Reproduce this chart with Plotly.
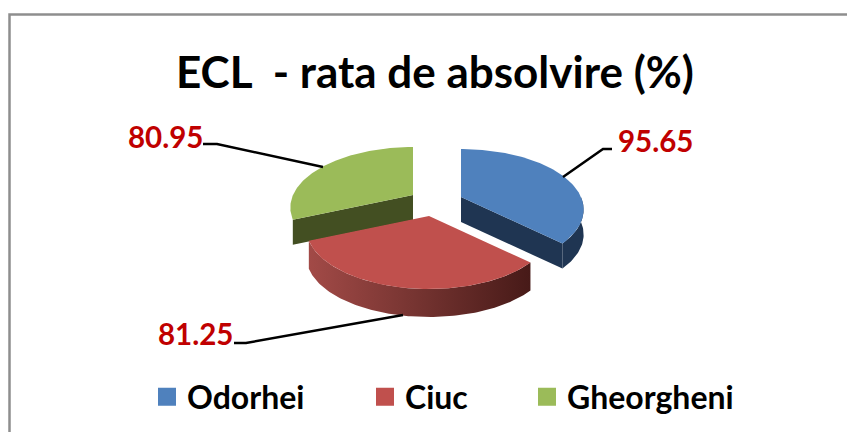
import numpy as np
import plotly.graph_objects as go

# --- data ---
categories = ["Odorhei", "Ciuc", "Gheorgheni"]
values = [95.65, 81.25, 80.95]
value_labels = ["95.65", "81.25", "80.95"]
title_text = "ECL  - rata de absolvire (%)"

# --- style / layout constants (pixels of the 847x432 page) ---
W, H = 847, 432
top_colors = ["#4F81BD", "#C0504D", "#9BBB59"]
wall_colors = ["#1F3552", "#6E2C2A", "#434F22"]
red_wall_scale = [[0, "#A24A47"], [0.5, "#743330"], [1, "#471A18"]]
apex = [(461, 197), (429, 216), (413, 195)]
depth = [25, 28, 25]
RX, RY, PERSP = 120.0, 57.9, 0.207
font = "Lato, Carlito, sans-serif"
label_pos = [(655, 140), (195, 333), (165, 136)]
leaders = [
    [(612, 149), (603, 149), (563, 177)],
    [(234, 343), (246, 343), (403, 315)],
    [(203, 144), (217, 144), (323, 167)],
]
legend_x = [147, 365, 527]


def project(theta, cx, cy, dz=0.0):
    s = 1.0 / (1.0 + PERSP * np.cos(theta))
    return cx + RX * np.sin(theta) * s, cy - RY * np.cos(theta) * s + dz


fractions = np.array(values) / np.sum(values)
edges = np.concatenate([[0], np.cumsum(fractions)]) * 2 * np.pi
fig = go.Figure()


def poly(xs, ys, color, **kw):
    fig.add_trace(go.Scatter(x=xs, y=ys, mode="lines", fill="toself", fillcolor=color,
                             line=dict(width=0, color=color), hoverinfo="skip",
                             showlegend=False, **kw))


# draw order: green, blue, red (nearest last)
for i in [2, 0, 1]:
    a0, a1 = edges[i], edges[i + 1]
    cx, cy = apex[i]
    d = depth[i]
    t = np.linspace(a0, a1, 120)
    x_top, y_top = project(t, cx, cy)
    if i == 0:
        x0, y0 = project(np.array([a0]), cx, cy)
        poly([x0[0], cx, cx, x0[0]], [y0[0], cy, cy + d, y0[0] + d], wall_colors[0])
        x1, y1 = project(np.array([a1]), cx, cy)
        poly([cx, x1[0], x1[0], cx], [cy, y1[0], y1[0] + d, cy + d], wall_colors[0])
        tw = np.linspace(np.pi / 2, a1, 40)
        xw, yw = project(tw, cx, cy)
        poly(np.r_[xw, xw[::-1]], np.r_[yw, yw[::-1] + d], wall_colors[0])
    elif i == 1:
        fig.add_trace(go.Scatter(
            x=np.r_[x_top, x_top[::-1]], y=np.r_[y_top, y_top[::-1] + d], mode="lines", fill="toself",
            fillgradient=dict(type="horizontal", colorscale=red_wall_scale),
            line=dict(width=0), hoverinfo="skip", showlegend=False))
    else:
        x0, y0 = project(np.array([a0]), cx, cy)
        poly([cx, x0[0], x0[0], cx], [cy, y0[0], y0[0] + d, cy + d], wall_colors[2])
    poly(np.r_[cx, x_top, cx], np.r_[cy, y_top, cy], top_colors[i])

# legend entries from the categories
for i, name in enumerate(categories):
    key = "legend" if i == 0 else f"legend{i + 1}"
    fig.add_trace(go.Scatter(x=[None], y=[None], mode="markers", name=f"<b>{name}</b>", legend=key,
                             marker=dict(symbol="square", size=16, color=top_colors[i],
                                         line=dict(width=2, color=top_colors[i]))))
    fig.update_layout({key: dict(
        x=legend_x[i] / W, xanchor="left",
        y=1 - 397 / H, yanchor="middle",
        bgcolor="rgba(0,0,0,0)", itemsizing="trace", itemclick=False,
        font=dict(family=font, size=32, color="#000000"))})

annotations = [dict(x=435, y=71, text=f"<b>{title_text}</b>", showarrow=False,
                    xref="x", yref="y", font=dict(family=font, size=44, color="#000000"))]
shapes = []
for i, txt in enumerate(value_labels):
    lx, ly = label_pos[i]
    annotations.append(dict(x=lx, y=ly, text=f"<b>{txt}</b>", showarrow=False, xref="x", yref="y",
                            font=dict(family=font, size=29.5, color="#C00000")))
    pts = leaders[i]
    path = "M " + " L ".join(f"{px},{py}" for px, py in pts)
    shapes.append(dict(type="path", path=path, xref="x", yref="y",
                       line=dict(color="#000000", width=2.5)))
# chart frame, open at right/bottom where the picture is cropped
shapes.append(dict(type="path", path=f"M 9.5,{H} L 9.5,14.5 L {W},14.5", xref="x", yref="y",
                   line=dict(color="#8E8E8E", width=2.5)))

fig.update_layout(
    width=W, height=H, margin=dict(l=0, r=0, t=0, b=0),
    paper_bgcolor="#FFFFFF", plot_bgcolor="#FFFFFF",
    xaxis=dict(range=[0, W], visible=False, fixedrange=True),
    yaxis=dict(range=[H, 0], visible=False, fixedrange=True),
    annotations=annotations, shapes=shapes,
)
fig.write_html("out.html", config=dict(displayModeBar=False),
               default_width=f"{W}px", default_height=f"{H}px",
               post_script="document.body.style.margin='0';document.documentElement.style.overflow='hidden';")
